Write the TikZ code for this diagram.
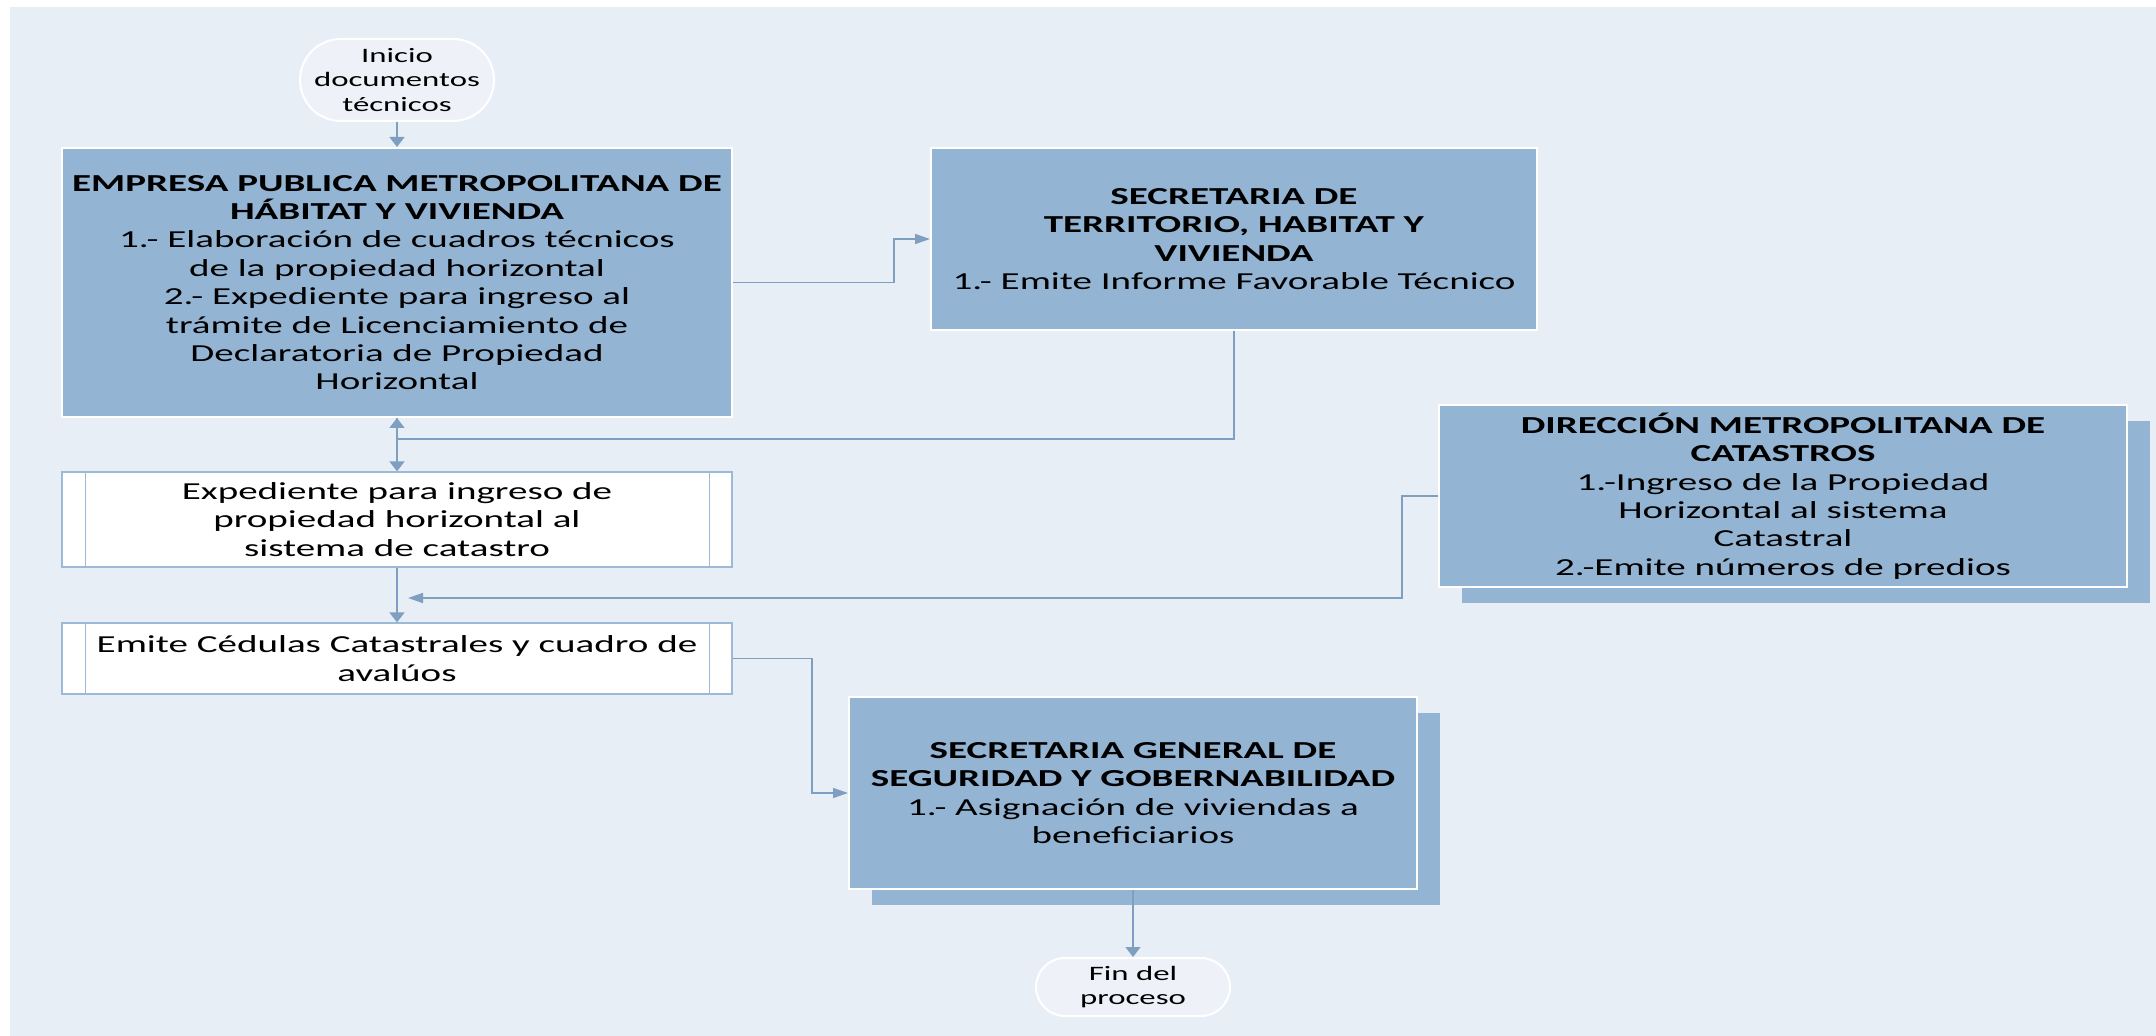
\documentclass[tikz,border=0pt]{standalone}
\usepackage{fontspec}
\setmainfont{Carlito}[FakeStretch=1.6]
\usetikzlibrary{arrows.meta,calc,shadows}
\definecolor{bg}{HTML}{E8EEF6}
\definecolor{boxfill}{HTML}{94B4D3}
\definecolor{termfill}{HTML}{EEF2F8}
\definecolor{connc}{HTML}{7F9FC0}
\definecolor{subline}{HTML}{9DB9D8}
\begin{document}
\begin{tikzpicture}[x=0.5pt,y=-0.5pt,
  txt/.style={font=\fontsize{12.2pt}{14.2pt}\selectfont, align=center, text=black, inner sep=0pt},
  bluebox/.style={txt, rectangle, fill=boxfill, draw=white, line width=1pt},
  shadowed/.style={drop shadow={shadow xshift=11.5pt, shadow yshift=-8pt, fill=boxfill, opacity=1, draw=none}},
  subproc/.style={txt, rectangle, fill=white, draw=subline, line width=0.6pt},
  term/.style={rectangle, fill=termfill, draw=white, line width=1pt, align=center, inner sep=0pt,
    font=\fontsize{10.25pt}{12.25pt}\selectfont},
  conn/.style={draw=connc, line width=0.75pt},
  arrV/.style={-{Triangle[length=5pt,width=7.5pt]}},
  arrH/.style={-{Triangle[length=7.5pt,width=5pt]}}
]
\useasboundingbox (0,0) rectangle (2156,1036);
\fill[bg] (10,7) rectangle (2156,1036);

% terminals
\node[term, minimum width=97pt, minimum height=41pt, rounded corners=20.5pt] (inicio) at (397,80)
  {Inicio\\documentos\\técnicos};
\node[term, minimum width=97pt, minimum height=29pt, rounded corners=14.5pt] (fin) at (1133,987)
  {Fin del\\proceso};

% blue boxes
\node[bluebox, minimum width=335pt, minimum height=134.5pt] (emp) at (397,282.5)
  {\textbf{EMPRESA PUBLICA METROPOLITANA DE}\\\textbf{HÁBITAT Y VIVIENDA}\\
   1.- Elaboración de cuadros técnicos\\de la propiedad horizontal\\
   2.- Expediente para ingreso al\\trámite de Licenciamiento de\\
   Declaratoria de Propiedad\\Horizontal};
\node[bluebox, minimum width=303pt, minimum height=91pt] (sec) at (1234,239)
  {\textbf{SECRETARIA DE}\\\textbf{TERRITORIO, HABITAT Y}\\\textbf{VIVIENDA}\\
   1.- Emite Informe Favorable Técnico};
\node[bluebox, shadowed, minimum width=344pt, minimum height=91pt] (dir) at (1783,496)
  {\textbf{DIRECCIÓN METROPOLITANA DE}\\\textbf{CATASTROS}\\
   1.-Ingreso de la Propiedad\\Horizontal al sistema\\Catastral\\
   2.-Emite números de predios};
\node[bluebox, shadowed, minimum width=284pt, minimum height=96pt] (sgs) at (1133,793)
  {\textbf{SECRETARIA GENERAL DE}\\\textbf{SEGURIDAD Y GOBERNABILIDAD}\\
   1.- Asignación de viviendas a\\beneficiarios};

% subprocess boxes
\node[subproc, minimum width=335pt, minimum height=47.5pt] (exp) at (397,519.5)
  {Expediente para ingreso de\\propiedad horizontal al\\sistema de catastro};
\node[subproc, minimum width=335pt, minimum height=35.5pt] (ced) at (397,658.5)
  {Emite Cédulas Catastrales y cuadro de\\avalúos};
\foreach \n in {exp,ced}{
  \draw[subline, line width=0.6pt] ($(\n.north west)+(24,0)$) -- ($(\n.south west)+(24,0)$);
  \draw[subline, line width=0.6pt] ($(\n.north east)+(-23,0)$) -- ($(\n.south east)+(-23,0)$);
}

% connector bend points
\coordinate (k1) at (894,282.5);
\coordinate (k2) at (397,439);
\coordinate (k3) at (1402,496);
\coordinate (k4) at (408,598);
\coordinate (k5) at (812,658.5);

% connectors
\draw[conn,arrV] (inicio.south) -- (emp.north);
\draw[conn,arrH] (emp.east) -- (k1) |- (sec.west);
\draw[conn,arrV] (sec.south) |- (k2) -- (emp.south);
\draw[conn,arrV] (emp.south) -- (exp.north);
\draw[conn,arrV] (exp.south) -- (ced.north);
\draw[conn,arrH] (dir.west) -- (k3) |- (k4);
\draw[conn,arrH] (ced.east) -- (k5) |- (sgs.west);
\draw[conn,arrV] (sgs.south) -- (fin.north);
\end{tikzpicture}
\end{document}
